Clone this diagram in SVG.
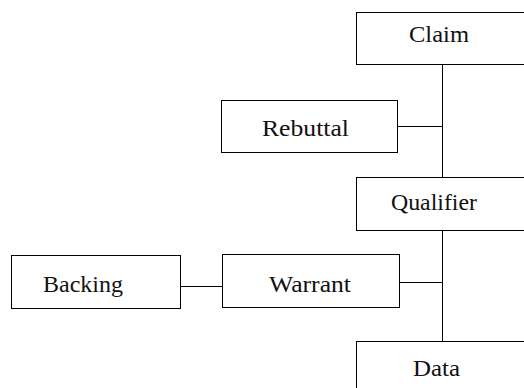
<svg xmlns="http://www.w3.org/2000/svg" width="524" height="388" viewBox="0 0 524 388">
<style>
.box{fill:#fff;stroke:#000;stroke-width:1}
.lbl{font-family:"Liberation Serif","DejaVu Serif",serif;font-size:24px;fill:#111}
.conn{stroke:#000;stroke-width:1;fill:none}
</style>
<rect width="524" height="388" fill="#fff"/>
<g id="connectors">
<line class="conn" x1="442.5" y1="64.5" x2="442.5" y2="177.5"/>
<line class="conn" x1="442.5" y1="230.5" x2="442.5" y2="341.5"/>
<line class="conn" x1="397.5" y1="126.5" x2="442.5" y2="126.5"/>
<line class="conn" x1="399.5" y1="282.5" x2="442.5" y2="282.5"/>
<line class="conn" x1="181" y1="286.5" x2="225.5" y2="286.5"/>
</g>
<g id="claim">
<rect class="box" x="356.5" y="12.5" width="190" height="52"/>
<text class="lbl" x="409" y="42" textLength="60" lengthAdjust="spacingAndGlyphs">Claim</text>
</g>
<g id="rebuttal">
<rect class="box" x="221.5" y="100.5" width="176" height="52"/>
<text class="lbl" x="262" y="136" textLength="87" lengthAdjust="spacingAndGlyphs">Rebuttal</text>
</g>
<g id="qualifier">
<rect class="box" x="356.5" y="177.5" width="190" height="53"/>
<text class="lbl" x="391" y="209.5" textLength="86" lengthAdjust="spacingAndGlyphs">Qualifier</text>
</g>
<g id="backing">
<rect class="box" x="11.5" y="255.5" width="169" height="53"/>
<text class="lbl" x="43" y="291.5" textLength="80" lengthAdjust="spacingAndGlyphs">Backing</text>
</g>
<g id="warrant">
<rect class="box" x="222.5" y="254.5" width="177" height="53"/>
<text class="lbl" x="269" y="291.5" textLength="82" lengthAdjust="spacingAndGlyphs">Warrant</text>
</g>
<g id="data">
<rect class="box" x="356.5" y="341.5" width="190" height="60"/>
<text class="lbl" x="413" y="376" textLength="47" lengthAdjust="spacingAndGlyphs">Data</text>
</g>
</svg>
